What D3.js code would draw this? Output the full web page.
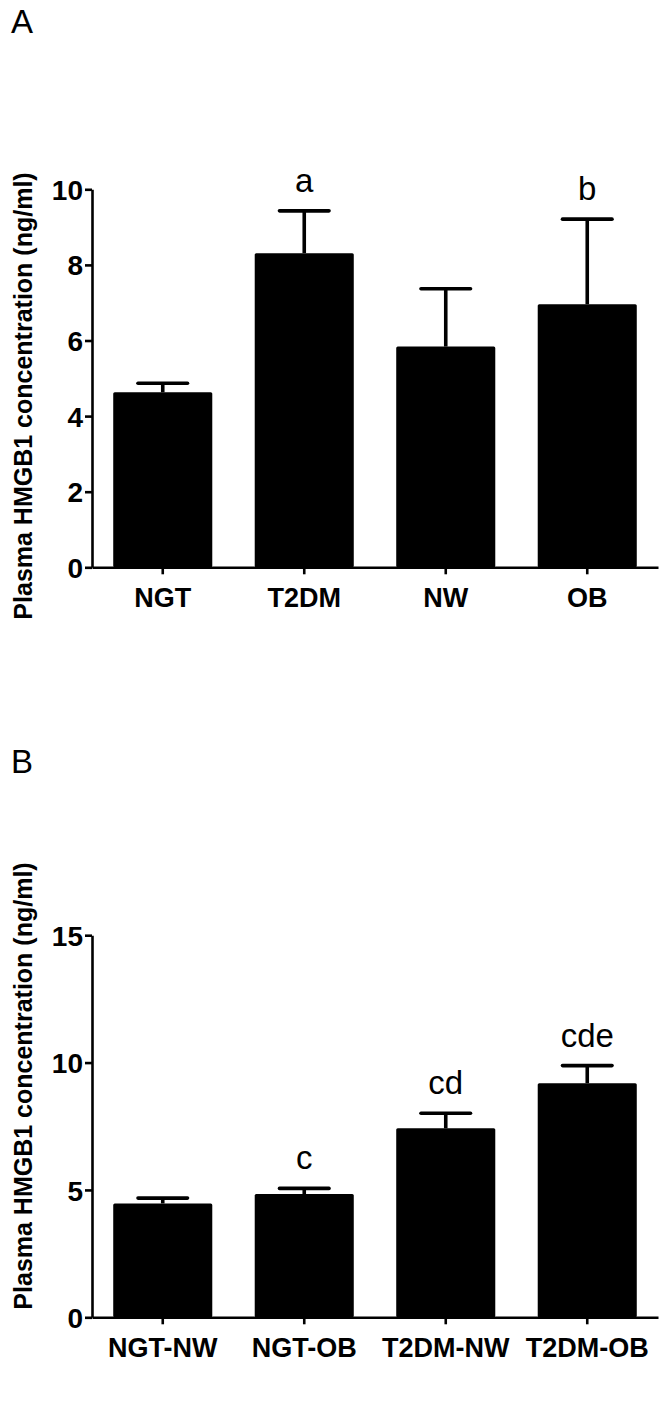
<!DOCTYPE html>
<html>
<head>
<meta charset="utf-8">
<script src="https://cdn.jsdelivr.net/npm/d3@7"></script>
<style>
  html, body { margin: 0; padding: 0; background: #fff; }
  svg { display: block; font-family: "Liberation Sans", Arial, sans-serif; }
</style>
</head>
<body>
<svg id="chart" width="666" height="1410"></svg>
<script>
'use strict';

// Panel A: groups by glucose tolerance / weight
const groupsA = ['NGT', 'T2DM', 'NW', 'OB'];
const meansA = [4.63, 8.31, 5.84, 6.96];
const errA = [0.24, 1.12, 1.53, 2.25];
const lettersA = ['', 'a', '', 'b'];
const ticksA = [0, 2, 4, 6, 8, 10];

// Panel B: combined subgroups
const groupsB = ['NGT-NW', 'NGT-OB', 'T2DM-NW', 'T2DM-OB'];
const meansB = [4.47, 4.84, 7.42, 9.19];
const errB = [0.21, 0.22, 0.59, 0.69];
const lettersB = ['', 'c', 'cd', 'cde'];
const ticksB = [0, 5, 10, 15];

const yTitle = 'Plasma HMGB1 concentration (ng/ml)';

const svg = d3.select('#chart');

function drawPanel(cfg) {

    let x = d3.scaleBand()
        .domain(cfg.groups)
        .range([92, 658])
        .paddingInner(0.3)
        .paddingOuter(0.15);

    let y = d3.scaleLinear()
        .domain([0, d3.max(cfg.ticks)])
        .range([cfg.bottom, cfg.top]);

    let rows = cfg.groups.map((g, i) => ({
        group: g, mean: cfg.means[i], err: cfg.errs[i], letter: cfg.letters[i]
    }));

    let g = svg.append('g');

    // bars
    g.selectAll('rect.bar')
        .data(rows)
        .enter()
        .append('rect')
        .attr('class', 'bar')
        .attr('x', d => x(d.group))
        .attr('y', d => y(d.mean))
        .attr('width', x.bandwidth())
        .attr('height', d => y(0) - y(d.mean))
        .attr('rx', 1.5)
        .attr('fill', '#000');

    // error bars (upper only)
    let capHalf = x.bandwidth() / 4;
    let eb = g.selectAll('g.err')
        .data(rows)
        .enter()
        .append('g')
        .attr('class', 'err')
        .attr('stroke', '#000')
        .attr('stroke-width', 3.6);

    eb.append('line')
        .attr('x1', d => x(d.group) + x.bandwidth() / 2)
        .attr('x2', d => x(d.group) + x.bandwidth() / 2)
        .attr('y1', d => y(d.mean))
        .attr('y2', d => y(d.mean + d.err));

    eb.append('line')
        .attr('x1', d => x(d.group) + x.bandwidth() / 2 - capHalf)
        .attr('x2', d => x(d.group) + x.bandwidth() / 2 + capHalf)
        .attr('y1', d => y(d.mean + d.err))
        .attr('y2', d => y(d.mean + d.err))
        .attr('stroke-linecap', 'round');

    // significance letters
    g.selectAll('text.sig')
        .data(rows.filter(d => d.letter))
        .enter()
        .append('text')
        .attr('class', 'sig')
        .attr('x', d => x(d.group) + x.bandwidth() / 2)
        .attr('y', d => y(d.mean + d.err) - 19)
        .attr('text-anchor', 'middle')
        .attr('font-size', 33)
        .attr('fill', '#000')
        .text(d => d.letter);

    // axes
    let yAxis = d3.axisLeft(y)
        .tickValues(cfg.ticks)
        .tickSize(7)
        .tickSizeOuter(0)
        .tickPadding(2)
        .tickFormat(d3.format('d'));

    let xAxis = d3.axisBottom(x)
        .tickSize(7)
        .tickSizeOuter(0)
        .tickPadding(14);

    let ya = g.append('g')
        .attr('transform', 'translate(92,0)')
        .call(yAxis);

    let xa = g.append('g')
        .attr('transform', `translate(0,${cfg.bottom})`)
        .call(xAxis);

    [ya, xa].forEach(a => {
        a.select('.domain').attr('stroke', '#000').attr('stroke-width', 2.6);
        a.selectAll('.tick line').attr('stroke', '#000').attr('stroke-width', 2.6);
        a.selectAll('.tick text')
            .attr('fill', '#000')
            .attr('font-family', '"Liberation Sans", Arial, sans-serif')
            .attr('font-weight', 'bold');
    });
    ya.selectAll('.tick text').attr('font-size', 28).attr('dy', '0.36em');
    xa.selectAll('.tick text').attr('font-size', 27).attr('dy', '0.71em');

    // y title
    g.append('text')
        .attr('transform', `translate(32,${cfg.titleY}) rotate(-90)`)
        .attr('text-anchor', 'middle')
        .attr('font-size', 25)
        .attr('font-weight', 'bold')
        .attr('fill', '#000')
        .text(yTitle);

    // panel letter
    g.append('text')
        .attr('x', 11)
        .attr('y', cfg.letterY)
        .attr('font-size', 33)
        .attr('fill', '#000')
        .text(cfg.panel);

    return;
}

drawPanel({
    panel: 'A', groups: groupsA, means: meansA, errs: errA, letters: lettersA,
    ticks: ticksA, top: 189.3, bottom: 567.3, titleY: 396, letterY: 33
});

drawPanel({
    panel: 'B', groups: groupsB, means: meansB, errs: errB, letters: lettersB,
    ticks: ticksB, top: 935.2, bottom: 1317.3, titleY: 1086, letterY: 773
});
</script>
</body>
</html>
